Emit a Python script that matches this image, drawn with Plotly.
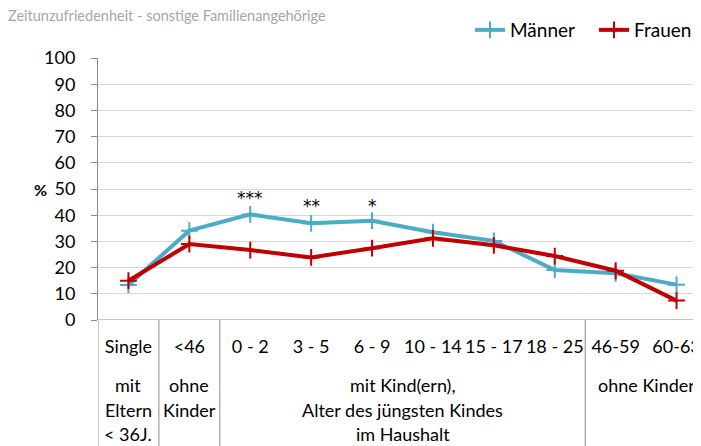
import plotly.graph_objects as go

# ---- data ----
categories = ["Single", "<46", "0 - 2", "3 - 5", "6 - 9", "10 - 14", "15 - 17", "18 - 25", "46-59", "60-63"]
maenner = [13.4, 34.1, 40.3, 36.9, 37.9, 33.5, 30.2, 19.1, 17.8, 13.5]
frauen = [15.0, 29.0, 26.7, 23.9, 27.4, 31.2, 28.5, 24.4, 18.8, 7.4]
stars = ["", "", "***", "**", "*", "", "", "", "", ""]
y_ticks = [0, 10, 20, 30, 40, 50, 60, 70, 80, 90, 100]
title_text = "Zeitunzufriedenheit - sonstige Familienangehörige"

# group labels: (first index, last index, lines)
groups = [
    (0, 0, ["mit", "Eltern", "< 36J."]),
    (1, 1, ["ohne", "Kinder"]),
    (2, 7, ["mit Kind(ern),", "Alter des jüngsten Kindes", "im Haushalt"]),
    (8, 9, ["ohne Kinder"]),
]

# ---- styling ----
FONT = "Lato"
FS = 18
OFF = 8                      # page body margin offset
W, H = 701, 446
X0, Y0, YB = 98, 58, 320     # reference page pixels: y-axis x, top (100), bottom (0)
ML, MT = X0 - OFF, Y0 - OFF
MB = H - (YB - OFF)
MR = 0
PW, PH = W - ML - MR, H - MT - MB
STEP = 60.9
xr = [-0.5, -0.5 + PW / STEP]

def py(pix):  # reference page y -> paper y
    return (YB - pix) / PH

def px(pix):  # reference page x -> paper x
    return (pix - X0) / PW

fig = go.Figure()
fig.add_trace(go.Scatter(
    x=list(range(len(categories))), y=maenner, name="Männer", mode="lines+markers",
    line=dict(color="#4BACC6", width=4), legend="legend",
    marker=dict(symbol="cross-thin", size=12, line=dict(color="#4BACC6", width=2)),
))
fig.add_trace(go.Scatter(
    x=list(range(len(categories))), y=frauen, name="Frauen", mode="lines+markers",
    line=dict(color="#C00000", width=4), legend="legend2",
    marker=dict(symbol="cross-thin", size=12, line=dict(color="#C00000", width=2)),
))

annotations = []
star_y = {3: 195, 2: 203, 1: 203}
for i, s in enumerate(stars):
    if s:
        annotations.append(dict(x=i, y=py(star_y[len(s)] + 3), xref="x", yref="paper",
                                text=s, showarrow=False, yanchor="middle",
                                font=dict(family="DejaVu Sans", size=17, color="#000")))

row_y = [385, 410, 434]
for a, b, lines in groups:
    for k, line in enumerate(lines):
        annotations.append(dict(x=(a + b) / 2, y=py(row_y[k]), xref="x", yref="paper",
                                text=line, showarrow=False, yanchor="middle",
                                font=dict(family=FONT, size=FS, color="#000")))

annotations.append(dict(x=px(32), y=py(189), xref="paper", yref="paper", text="<b>%</b>",
                        showarrow=False, yanchor="middle",
                        font=dict(family=FONT, size=16, color="#000")))

shapes = []
for xb in [-0.5, 0.5, 1.5, 7.5]:
    shapes.append(dict(type="line", xref="x", yref="paper", x0=xb, x1=xb,
                       y0=0, y1=py(H + 20), line=dict(color="#8c8c8c", width=1)))

leg_common = dict(orientation="h", y=py(30), yanchor="middle",
                  font=dict(family=FONT, size=19), bgcolor="rgba(0,0,0,0)")

fig.update_layout(
    width=W, height=H,
    margin=dict(l=ML, r=MR, t=MT, b=MB, autoexpand=False),
    paper_bgcolor="white", plot_bgcolor="white",
    font=dict(family=FONT, size=FS, color="#000"),
    title=dict(text=title_text, x=0.0, xanchor="left", xref="container",
               y=1 - (16 - OFF) / H, yanchor="middle", yref="container",
               font=dict(family=FONT, size=14.5, color="#a6a6a6")),
    showlegend=True,
    legend=dict(x=px(470), xanchor="left", **leg_common),
    legend2=dict(x=px(697), xanchor="right", **leg_common),
    xaxis=dict(range=xr, tickvals=list(range(len(categories))), ticktext=categories,
               showgrid=False, zeroline=False, showline=False, ticks="", automargin=False,
               ticklabelstandoff=14, tickfont=dict(family=FONT, size=FS)),
    yaxis=dict(range=[0, 100], tickvals=y_ticks, showgrid=True, gridcolor="#d9d9d9",
               gridwidth=1, zeroline=False, showline=True, linecolor="#8c8c8c",
               ticks="outside", ticklen=6, tickcolor="#8c8c8c", ticklabelstandoff=12,
               automargin=False, tickfont=dict(family=FONT, size=FS)),
    annotations=annotations,
    shapes=shapes + [dict(type="line", xref="paper", yref="y", x0=0, x1=1, y0=0, y1=0,
                          line=dict(color="#8c8c8c", width=1))],
)

fig.write_html("out.html")
